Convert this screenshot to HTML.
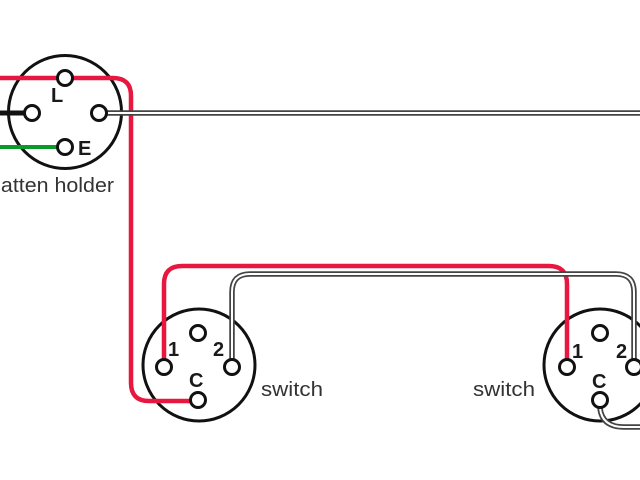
<!DOCTYPE html>
<html>
<head>
<meta charset="utf-8">
<style>
html,body{margin:0;padding:0;background:#fff;width:640px;height:480px;overflow:hidden}
svg{display:block}
text{font-family:"Liberation Sans",sans-serif}
.b{font-weight:bold;font-size:20px;fill:#1a1a1a}
.t{font-size:20px;fill:#333}
</style>
</head>
<body>
<svg width="640" height="480" viewBox="0 0 640 480" xmlns="http://www.w3.org/2000/svg">
<g fill="none" stroke="#111" stroke-width="3">
<circle cx="65" cy="112" r="56.5"/>
<circle cx="199" cy="365" r="56"/>
<circle cx="600" cy="365" r="56"/>
</g>
<g fill="none" stroke-linejoin="round">
<path d="M0 78H113Q131 78 131 96V383Q131 401 149 401H198" stroke="#e8173f" stroke-width="4.5"/>
<path d="M164 367V284Q164 266 182 266H549Q567 266 567 284V367" stroke="#e8173f" stroke-width="4.5"/>
<path d="M0 113H32" stroke="#111" stroke-width="5"/>
<path d="M0 147H65" stroke="#0a9a2a" stroke-width="4"/>
<path d="M99 113H640" stroke="#444" stroke-width="5.5"/>
<path d="M99 113H640" stroke="#fff" stroke-width="2"/>
<path d="M232 367V292Q232 274 250 274H616Q634 274 634 292V367" stroke="#444" stroke-width="5.5"/>
<path d="M232 367V292Q232 274 250 274H616Q634 274 634 292V367" stroke="#fff" stroke-width="2"/>
<path d="M600 400V408Q602 427 624 427H640" stroke="#444" stroke-width="5.5"/>
<path d="M600 400V408Q602 427 624 427H640" stroke="#fff" stroke-width="2"/>
</g>
<g fill="#fff" stroke="#111" stroke-width="3">
<circle cx="65" cy="78" r="7.5"/>
<circle cx="32" cy="113" r="7.5"/>
<circle cx="99" cy="113" r="7.5"/>
<circle cx="65" cy="147" r="7.5"/>
<circle cx="198" cy="333" r="7.5"/>
<circle cx="164" cy="367" r="7.5"/>
<circle cx="232" cy="367" r="7.5"/>
<circle cx="198" cy="400" r="7.5"/>
<circle cx="600" cy="333" r="7.5"/>
<circle cx="567" cy="367" r="7.5"/>
<circle cx="634" cy="367" r="7.5"/>
<circle cx="600" cy="400" r="7.5"/>
</g>
<text class="b" x="51" y="102">L</text>
<text class="b" x="78" y="155">E</text>
<text class="b" x="168" y="356">1</text>
<text class="b" x="213" y="356">2</text>
<text class="b" x="189" y="387">C</text>
<text class="b" x="572" y="358">1</text>
<text class="b" x="616" y="358">2</text>
<text class="b" x="592" y="388">C</text>
<text class="t" x="-11" y="192" textLength="125" lengthAdjust="spacingAndGlyphs">batten holder</text>
<text class="t" x="261" y="396" textLength="62" lengthAdjust="spacingAndGlyphs">switch</text>
<text class="t" x="473" y="396" textLength="62" lengthAdjust="spacingAndGlyphs">switch</text>
</svg>
</body>
</html>
